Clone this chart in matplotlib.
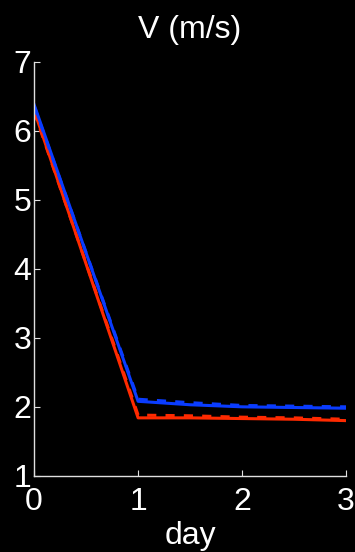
import matplotlib.pyplot as plt

days = [0, 1, 1.5, 2, 2.5, 3]
blue_solid = [6.38, 2.08, 2.03, 2.00, 1.99, 1.98]
blue_dashed = [6.36, 2.11, 2.06, 2.02, 2.01, 2.00]
red_solid = [6.30, 1.84, 1.84, 1.83, 1.82, 1.80]
red_dashed = [6.28, 1.88, 1.87, 1.85, 1.84, 1.82]

xticks = [0, 1, 2, 3]
yticks = [1, 2, 3, 4, 5, 6, 7]

plt.rcParams['font.family'] = ['Liberation Sans', 'DejaVu Sans']

fig = plt.figure(figsize=(3.55, 5.52), dpi=100, facecolor='black')
ax = fig.add_axes([0.096, 0.138, 0.879, 0.75])
ax.set_facecolor('black')

ax.plot(days, red_dashed, color='#ff2a00', lw=2.2, ls=(0, (3, 3)))
ax.plot(days, red_solid, color='#ff2a00', lw=2.2)
ax.plot(days, blue_dashed, color='#0a3cff', lw=2.2, ls=(0, (3, 3)))
ax.plot(days, blue_solid, color='#0a3cff', lw=2.2)

ax.set_xlim(0, 3)
ax.set_ylim(1, 7)
ax.set_xticks(xticks)
ax.set_yticks(yticks)
for s in ['top', 'right']:
    ax.spines[s].set_visible(False)
for s in ['left', 'bottom']:
    ax.spines[s].set_color('#e0e0e0')
    ax.spines[s].set_linewidth(1)
ax.tick_params(direction='in', length=4, colors='#e0e0e0', labelcolor='white',
               labelsize=23)
ax.tick_params(axis='x', pad=8)
ax.tick_params(axis='y', pad=2)
ax.set_title('V (m/s)', color='white', fontsize=23, pad=17)
ax.set_xlabel('day', color='white', fontsize=23, labelpad=3)

fig.savefig('out.png', dpi=100, facecolor='black')
